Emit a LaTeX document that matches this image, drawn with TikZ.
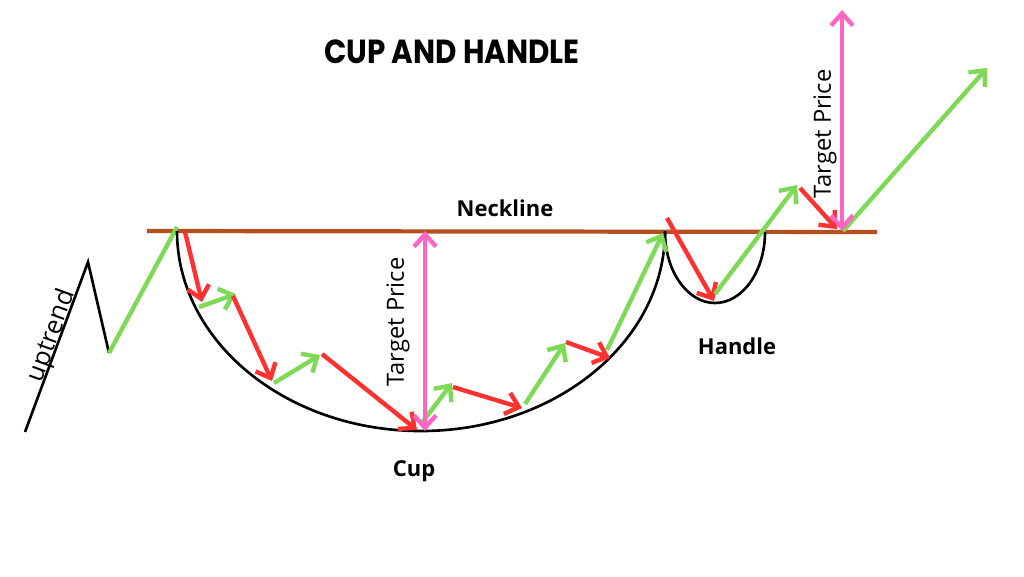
\documentclass[tikz,border=0pt]{standalone}
\usepackage{fontspec}
\setmainfont{Open Sans}
\newfontfamily\titlefont{Poppins}
\usetikzlibrary{arrows.meta}
\definecolor{cgreen}{HTML}{7ED957}
\definecolor{cred}{HTML}{FF3131}
\definecolor{cpink}{HTML}{FF66C4}
\definecolor{cbrown}{HTML}{B4501E}
\begin{document}
\begin{tikzpicture}[x=0.02cm,y=-0.02cm,
  tipbarb/.style={-{Straight Barb[length=7pt,width=12.5pt]}},
  upmove/.style={draw=cgreen,line width=2.5pt},
  downmove/.style={draw=cred,line width=2.5pt},
  target/.style={draw=cpink,line width=2.5pt,{Straight Barb[length=7pt,width=12.5pt]}-{Straight Barb[length=7pt,width=12.5pt]}},
  curve/.style={draw=black,line width=1.5pt},
  neck/.style={draw=cbrown,line width=2.4pt},
  lbl/.style={font=\fontsize{12.5}{14}\selectfont\bfseries,text=black,inner sep=0pt},
  tlbl/.style={font=\fontsize{13.5}{15}\selectfont,text=black,inner sep=0pt,rotate=90}]
\useasboundingbox (0,0) rectangle (1024,576);
% coordinates
\coordinate (u0) at (25,432);
\coordinate (u1) at (88,262);
\coordinate (u2) at (109,353);
\coordinate (p0) at (177,227);
\coordinate (nl) at (147,231);
\coordinate (nr) at (877,232);
% neckline
\draw[neck] (nl) -- (nr);
% uptrend
\draw[curve] (u0) -- (u1) -- (u2);
\draw[upmove] (u2) -- (p0);
% cup
\draw[curve] (177,231) arc[start angle=180,end angle=0,x radius=244,y radius=200];
% handle
\draw[curve] (665,232) arc[start angle=180,end angle=0,x radius=50,y radius=71];
% cup moves
\coordinate (a1) at (185,232); \coordinate (a2) at (202,302);
\coordinate (b1) at (199,307); \coordinate (b2) at (236,294);
\coordinate (c1) at (233,296); \coordinate (c2) at (272,381);
\coordinate (d1) at (274,383); \coordinate (d2) at (320,355);
\coordinate (e1) at (322,354); \coordinate (e2) at (417,430);
\coordinate (f1) at (421,424); \coordinate (f2) at (452,383);
\coordinate (g1) at (453,387); \coordinate (g2) at (522,408);
\coordinate (h1) at (525,404); \coordinate (h2) at (565,343);
\coordinate (i1) at (566,342); \coordinate (i2) at (610,358);
\coordinate (j1) at (607,350); \coordinate (j2) at (663,233);
\draw[downmove,tipbarb] (a1) -- (a2);
\draw[upmove,tipbarb] (b1) -- (b2);
\draw[downmove,tipbarb] (c1) -- (c2);
\draw[upmove,tipbarb] (d1) -- (d2);
\draw[downmove,tipbarb] (e1) -- (e2);
\draw[upmove,tipbarb] (f1) -- (f2);
\draw[downmove,tipbarb] (g1) -- (g2);
\draw[upmove,tipbarb] (h1) -- (h2);
\draw[downmove,tipbarb] (i1) -- (i2);
\draw[upmove,tipbarb] (j1) -- (j2);
% handle moves
\coordinate (k1) at (667,218); \coordinate (k2) at (714,301);
\coordinate (l1) at (715,294); \coordinate (l2) at (797,185);
\coordinate (m1) at (800,188); \coordinate (m2) at (837,229);
\coordinate (n1) at (843,231); \coordinate (n2) at (987,68);
\draw[downmove,tipbarb] (k1) -- (k2);
\draw[upmove,tipbarb] (l1) -- (l2);
\draw[downmove,tipbarb] (m1) -- (m2);
\draw[upmove,tipbarb] (n1) -- (n2);
% target prices
\coordinate (t1a) at (425,231); \coordinate (t1b) at (425,431);
\coordinate (t2a) at (842,10); \coordinate (t2b) at (842,231);
\draw[target] (t1a) -- (t1b);
\draw[target] (t2a) -- (t2b);
% labels
\node[font=\titlefont\fontsize{19}{22}\selectfont\bfseries,xscale=0.88,inner sep=0pt] (title) at (452,52) {CUP AND HANDLE};
\node[lbl] (neckline) at (505,208) {Neckline};
\node[lbl] (handle) at (737,346) {Handle};
\node[lbl] (cup) at (414,471) {Cup};
\node[tlbl] (tp1) at (398,322) {Target Price};
\node[tlbl] (tp2) at (825,134) {Target Price};
\node[font=\fontsize{14.5}{16}\selectfont,inner sep=0pt,rotate=70] (uptrend) at (52,336) {uptrend};
\end{tikzpicture}
\end{document}
